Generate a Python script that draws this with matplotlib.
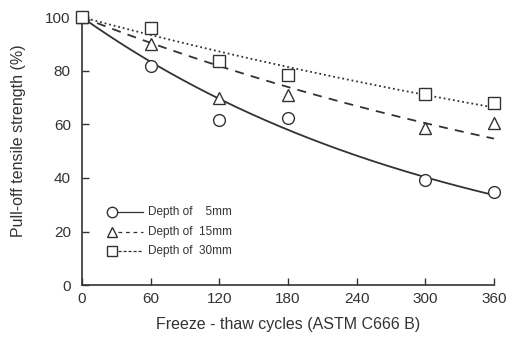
import numpy as np
import matplotlib.pyplot as plt

plt.rcParams['font.family'] = ['Liberation Sans', 'DejaVu Sans']

# freeze-thaw cycles
CYCLES = [0, 60, 120, 180, 300, 360]
# pull-off strength (%) at each depth
DEPTH_5 = [100, 81.7, 61.6, 62.3, 39.2, 34.7]
DEPTH_15 = [100, 90.0, 70.0, 71.0, 58.6, 60.4]
DEPTH_30 = [100, 96.0, 83.6, 78.4, 71.3, 68.0]
LABELS = ["Depth of    5mm", "Depth of  15mm", "Depth of  30mm"]
X_TICKS = [0, 60, 120, 180, 240, 300, 360]
Y_TICKS = [0, 20, 40, 60, 80, 100]

C = '#333333'


def exp_fit(x, y):
    # y = 100*exp(-k x), least squares on log through origin
    x = np.array(x, dtype=float)
    ly = np.log(np.array(y) / 100.0)
    k = -np.sum(x * ly) / np.sum(x * x)
    return k


fig = plt.figure(figsize=(5.15, 3.44), dpi=100)
ax = fig.add_axes([0.159, 0.171, 0.8, 0.779])

xs = np.linspace(0, 360, 200)
series = [(DEPTH_5, 'o', '-'), (DEPTH_15, '^', (0, (5, 4))), (DEPTH_30, 's', (0, (1, 1.6)))]
for vals, mk, ls in series:
    k = exp_fit(CYCLES, vals)
    ax.plot(xs, 100 * np.exp(-k * xs), color=C, lw=1.3, ls=ls, clip_on=False)
    ax.plot(CYCLES, vals, ls='none', marker=mk, ms=8.5, mfc='white', mec=C, mew=1.0,
            clip_on=False, zorder=3)

# hand drawn legend (marker on the left, line to the right)
leg_y = [0.272, 0.198, 0.127]
leg_ls = ['-', (0, (3, 3)), (0, (2.5, 1.5))]
for (vals, mk, ls), yy, lab, lls in zip(series, leg_y, LABELS, leg_ls):
    ax.plot([0.073], [yy], marker=mk, ms=7.5, mfc='white', mec=C, mew=1.0,
            transform=ax.transAxes, ls='none')
    ax.plot([0.088, 0.148], [yy, yy], color=C, lw=0.9, ls=lls,
            transform=ax.transAxes)
    ax.text(0.16, yy, lab, transform=ax.transAxes, fontsize=8.5, color=C, va='center')

ax.set_xlim(0, 360)
ax.set_ylim(0, 100)
ax.set_xticks(X_TICKS)
ax.set_yticks(Y_TICKS)
ax.spines['top'].set_visible(False)
ax.spines['right'].set_visible(False)
for s in ['left', 'bottom']:
    ax.spines[s].set_color(C)
    ax.spines[s].set_linewidth(1.2)
ax.tick_params(direction='in', length=5, width=1.0, color=C, labelcolor=C, labelsize=11)
ax.tick_params(axis='x', pad=5)
ax.tick_params(axis='y', pad=8)

ax.set_xlabel("Freeze - thaw cycles (ASTM C666 B)", fontsize=11.5, color=C)
ax.set_ylabel("Pull-off tensile strength (%)", fontsize=11.5, color=C)
ax.xaxis.set_label_coords(0.5, -0.12)
ax.yaxis.set_label_coords(-0.135, 0.54)

fig.savefig("out.png", dpi=100)
